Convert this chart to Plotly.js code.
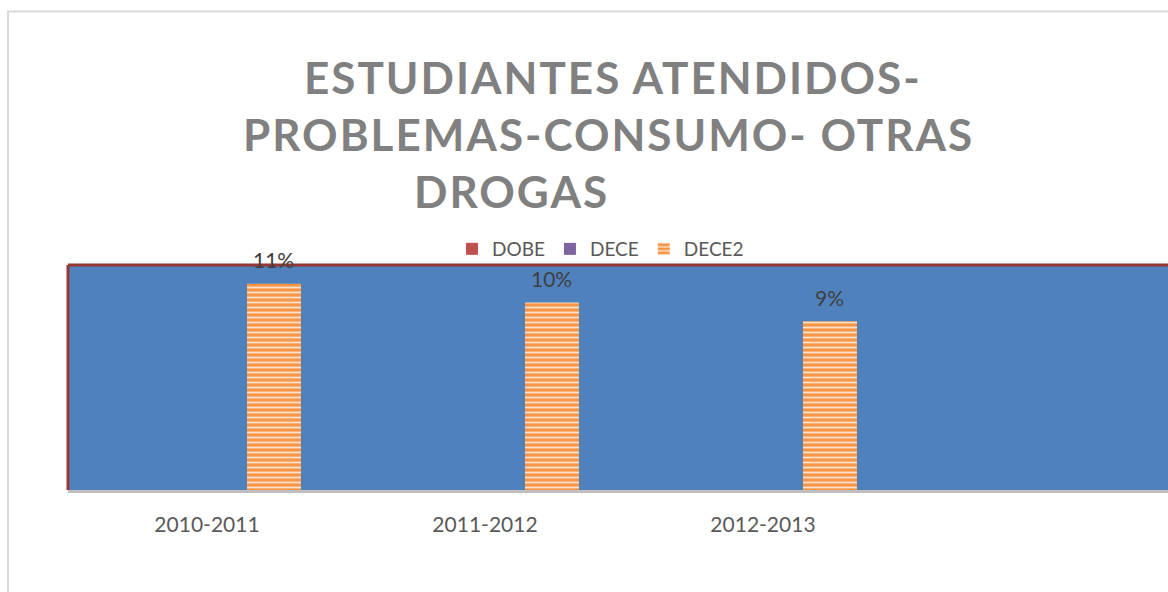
<!DOCTYPE html>
<html>
<head>
<meta charset="utf-8">
<script src="https://cdn.plot.ly/plotly-3.0.1.min.js"></script>
<style>
html, body { margin:0; padding:0; background:#fff; }
#chart { width:1168px; height:592px; }
g.annotation[data-index="0"] text,
g.annotation[data-index="1"] text,
g.annotation[data-index="2"] text { letter-spacing: 2px; }
</style>
</head>
<body>
<div id="chart"></div>
<script>
const categories = ["2010-2011", "2011-2012", "2012-2013"];
const dobeValues = [null, null, null];
const deceValues = [null, null, null];
const dece2Values = [0.11, 0.10, 0.09];
const dece2Labels = ["11%", "10%", "9%"];
const seriesNames = ["DOBE", "DECE", "DECE2"];
const titleLines = ["ESTUDIANTES ATENDIDOS-", "PROBLEMAS-CONSUMO- OTRAS", "DROGAS"];

const FONT = "Lato, 'Open Sans', sans-serif";
const W = 1168, H = 592;
const margin = {l: 68, r: 0, t: 265, b: 102, pad: 0};
const xRange = [-0.5, 3.457];
const bargap = 0.277;
const bargroupgap = 0.194;

const plotW = W - margin.l - margin.r;
const pxPerCat = plotW / (xRange[1] - xRange[0]);
const slot = pxPerCat * (1 - bargap) / 3;

const traces = [
  {type: "bar", name: seriesNames[0], x: categories, y: dobeValues,
   marker: {color: "#C0504D"}, hoverinfo: "skip"},
  {type: "bar", name: seriesNames[1], x: categories, y: deceValues,
   marker: {color: "#8064A2"}, hoverinfo: "skip"},
  {type: "bar", name: seriesNames[2], x: categories, y: dece2Values,
   marker: {color: "#F79646", line: {width: 0},
            pattern: {shape: "-", fillmode: "replace", bgcolor: "#F79646", fgcolor: "#FDE2CB", size: 5, solidity: 0.35}},
   hoverinfo: "skip"}
];

const annotations = [];
// title lines (indices 0..2)
const titlePos = [
  {x: (613 - margin.l) / plotW, y: (490 - 77) / 225, xanchor: "center"},
  {x: (608 - margin.l) / plotW, y: (490 - 134) / 225, xanchor: "center"},
  {x: (418 - margin.l) / plotW, y: (490 - 191) / 225, xanchor: "left"}
];
titleLines.forEach((t, i) => {
  annotations.push({
    text: t, xref: "paper", yref: "paper", x: titlePos[i].x, y: titlePos[i].y,
    xanchor: titlePos[i].xanchor, yanchor: "middle", showarrow: false,
    font: {family: FONT, size: 44, color: "#808080", weight: 700}
  });
});
// data labels
categories.forEach((c, i) => {
  annotations.push({
    text: dece2Labels[i], x: c, y: dece2Values[i], xref: "x", yref: "y",
    xshift: slot, yshift: 24, yanchor: "middle", showarrow: false,
    font: {family: FONT, size: 21, color: "#404040"}
  });
});

const layout = {
  width: W, height: H, margin: margin,
  paper_bgcolor: "#ffffff", plot_bgcolor: "#4F81BD",
  font: {family: FONT, color: "#595959"},
  barmode: "group", bargap: bargap, bargroupgap: bargroupgap,
  showlegend: true,
  legend: {orientation: "h", x: (452 - margin.l) / plotW, xanchor: "left",
           y: (490 - 249) / 225, yanchor: "middle",
           font: {family: FONT, size: 19, color: "#595959"},
           bgcolor: "rgba(0,0,0,0)", traceorder: "normal"},
  xaxis: {type: "category", range: xRange, showgrid: false, zeroline: false,
          showline: true, linecolor: "#BFBFBF", linewidth: 3, ticks: "",
          ticklabelstandoff: 14, tickfont: {family: FONT, size: 21, color: "#595959"},
          fixedrange: true},
  yaxis: {range: [0, 0.12], showgrid: false, zeroline: false, showticklabels: false,
          ticks: "", showline: false, fixedrange: true},
  annotations: annotations,
  shapes: [
    {type: "rect", xref: "paper", yref: "paper", x0: (8 - margin.l) / plotW, x1: 1.2,
     y0: -2, y1: (490 - 11.5) / 225, line: {color: "#D9D9D9", width: 2}, layer: "below"},
    {type: "line", xref: "paper", yref: "paper", x0: 0, x1: 0, y0: 0, y1: 1,
     line: {color: "#953735", width: 3}, layer: "above"},
    {type: "line", xref: "paper", yref: "paper", x0: 0, x1: 1, y0: 1, y1: 1,
     line: {color: "#953735", width: 3}, layer: "above"}
  ]
};

Plotly.newPlot("chart", traces, layout, {displayModeBar: false, staticPlot: true});
</script>
</body>
</html>
